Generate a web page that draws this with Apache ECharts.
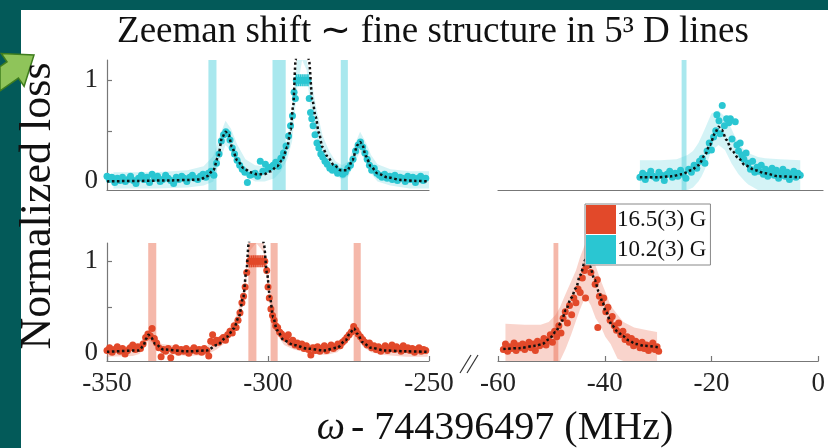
<!DOCTYPE html>
<html><head><meta charset="utf-8">
<script src="https://cdn.jsdelivr.net/npm/echarts@6/dist/echarts.min.js"></script>
<style>html,body{margin:0;padding:0;background:#fff}#c{width:828px;height:448px}</style>
</head><body><div id="c"></div>
<script>
// ---------- data ----------
const legendNames = ['16.5(3) G', '10.2(3) G'];
const yTickLabels = [0, 1];
const yTickMarks = [0, 0.5, 1];

// vertical marker bands [from, to] (MHz)
const bandsTL = [[-318.5, -316], [-298.6, -294.5], [-277.4, -275.2]];
const bandsTR = [[-26.1, -25.2]];
const bandsBL = [[-337.2, -334.7], [-306.1, -303.6], [-299.2, -297], [-273.4, -271.2]];
const bandsBR = [[-49.6, -48.7]];

// measured points, 10.2(3) G, left window
const ptsTL = [[-350,0.05],[-349.3,0.02],[-348.5,0.04],[-347.6,-0.01],[-346.8,0.03],[-346,0.01],[-345.2,0.04],[-344.3,0.0],[-343.5,0.02],[-342.7,0.05],[-341.8,0.01],[-341,-0.02],[-340.2,0.03],[-339.3,0.06],[-338.5,0.02],[-337.6,0.04],[-336.8,-0.01],[-336,0.07],[-335.2,0.03],[-334.3,0.05],[-333.5,0.0],[-332.7,0.02],[-331.8,0.06],[-331,0.03],[-330.2,0.01],[-329.3,-0.02],[-328.5,0.04],[-327.7,0.02],[-326.8,0.05],[-326,0.03],[-325.2,0.0],[-324.3,0.04],[-323.5,0.06],[-322.7,0.03],[-321.8,0.02],[-321,0.05],[-320.2,0.07],[-319.3,0.04],[-318.5,0.08],[-317.7,0.1],[-316.8,0.06],[-316,0.18],[-315.2,0.27],[-314.5,0.4],[-313.8,0.46],[-313.1,0.49],[-312.5,0.47],[-311.8,0.41],[-311.1,0.33],[-310.4,0.27],[-309.6,0.21],[-308.8,0.16],[-308,0.12],[-307.2,0.09],[-306.4,-0.01],[-305.6,0.06],[-304.8,0.07],[-304,0.08],[-303.2,0.05],[-302.4,0.2],[-301.6,0.1],[-300.8,0.17],[-300,0.12],[-299.2,0.14],[-298.4,0.16],[-297.6,0.19],[-296.8,0.15],[-296,0.23],[-295.2,0.28],[-294.4,0.35],[-293.6,0.45],[-293,0.55],[-292.4,0.65],[-291.9,0.88],[-291.5,0.82],[-287.2,0.82],[-286.8,0.68],[-286.4,0.62],[-286,0.55],[-285.4,0.46],[-284.8,0.38],[-284.2,0.33],[-283.6,0.27],[-283,0.24],[-282.3,0.2],[-281.6,0.17],[-280.8,0.13],[-280,0.11],[-279.2,0.14],[-278.4,0.08],[-277.6,0.1],[-276.8,0.07],[-276,0.09],[-275.2,0.13],[-274.4,0.16],[-273.6,0.22],[-272.8,0.3],[-272,0.36],[-271.3,0.39],[-270.6,0.34],[-269.9,0.28],[-269.2,0.22],[-268.5,0.16],[-267.8,0.11],[-267,0.13],[-266.2,0.08],[-265.4,0.06],[-264.6,0.04],[-263.8,0.07],[-263,0.03],[-262.2,0.05],[-261.4,0.02],[-260.6,0.06],[-259.8,0.01],[-259,0.04],[-258.2,0.03],[-257.4,0.0],[-256.6,0.05],[-255.8,0.02],[-255,0.04],[-254.2,-0.01],[-253.4,0.03],[-252.6,0.05],[-251.8,0.01],[-251,0.03]];
const satTL = [[-291.2,1],[-290.6,1],[-290,1],[-289.4,1],[-288.8,1],[-288.2,1],[-287.6,1]];

// measured points, 10.2(3) G, right window
const ptsTR = [[-33.8,0.04],[-33.3,0.08],[-32.8,0.02],[-32.3,0.06],[-31.8,0.1],[-31.3,0.05],[-30.8,0.03],[-30.3,0.09],[-29.8,0.06],[-29.3,0.01],[-28.8,0.07],[-28.3,0.1],[-27.8,0.04],[-27.3,0.08],[-26.8,0.05],[-26.3,0.11],[-25.8,0.07],[-25.3,0.03],[-24.8,0.12],[-24.3,0.09],[-23.8,0.16],[-23.3,0.13],[-22.8,0.2],[-22.3,0.23],[-21.8,0.18],[-21.4,0.3],[-21,0.38],[-20.6,0.31],[-20.2,0.44],[-19.8,0.5],[-19.6,0.66],[-19.2,0.6],[-19,0.47],[-18.6,0.75],[-18.2,0.55],[-17.8,0.62],[-17.4,0.58],[-17.1,0.62],[-16.8,0.42],[-16.2,0.59],[-15.9,0.36],[-15.6,0.3],[-15.3,0.38],[-15,0.26],[-14.6,0.22],[-14.2,0.28],[-13.8,0.18],[-13.4,0.12],[-13,0.2],[-12.6,0.09],[-12.2,0.14],[-11.8,0.1],[-11.4,0.16],[-11,0.07],[-10.6,0.12],[-10.2,0.05],[-9.8,0.1],[-9.4,0.13],[-9,0.06],[-8.6,0.11],[-8.2,0.03],[-7.8,0.08],[-7.4,0.12],[-7,0.05],[-6.6,0.09],[-6.2,0.02],[-5.8,0.07],[-5.4,0.1],[-5,0.04],[-4.6,0.08],[-4.2,0.06]];

// measured points, 16.5(3) G, left window
const ptsBL = [[-350,0.03],[-349.2,0.06],[-348.4,0.01],[-347.6,0.04],[-346.8,0.07],[-346,0.02],[-345.2,0.05],[-344.4,-0.01],[-343.6,0.03],[-342.8,0.06],[-342,0.09],[-341.2,0.04],[-340.4,0.07],[-339.6,0.05],[-338.8,0.1],[-338,0.17],[-337.3,0.21],[-336.6,0.19],[-336,0.27],[-335.3,0.16],[-334.6,0.11],[-333.9,0.06],[-333.2,-0.04],[-332.5,0.04],[-331.8,0.02],[-331,0.05],[-330.2,-0.05],[-329.4,0.03],[-328.6,0.06],[-327.8,0.01],[-327,0.04],[-326.2,0.02],[-325.4,0.05],[-324.6,0.0],[-323.8,0.03],[-323,0.06],[-322.2,0.02],[-321.4,0.04],[-320.6,0.01],[-319.8,0.05],[-319,0.03],[-318.4,-0.03],[-317.8,0.13],[-317.2,0.2],[-316.6,0.11],[-316,0.14],[-315.3,0.12],[-314.6,0.15],[-313.9,0.17],[-313.2,0.14],[-312.5,0.2],[-311.8,0.24],[-311.1,0.22],[-310.5,0.3],[-309.9,0.28],[-309.3,0.36],[-308.7,0.44],[-308.1,0.55],[-307.6,0.62],[-307.1,0.72],[-306.6,0.88],[-300.4,0.9],[-300,0.72],[-299.6,0.6],[-299.1,0.48],[-298.6,0.41],[-298.1,0.36],[-297.6,0.3],[-297,0.28],[-296.4,0.23],[-295.8,0.21],[-295.1,0.18],[-294.4,0.16],[-293.7,0.2],[-293,0.12],[-292.3,0.14],[-291.6,0.09],[-290.9,0.11],[-290.2,0.07],[-289.5,0.1],[-288.8,0.05],[-288.1,0.08],[-287.4,0.04],[-286.7,-0.02],[-286,0.06],[-285.3,0.03],[-284.6,0.07],[-283.9,0.02],[-283.2,0.05],[-282.5,0.08],[-281.8,0.03],[-281.1,0.06],[-280.4,0.09],[-279.7,0.05],[-279,0.07],[-278.3,0.1],[-277.6,0.08],[-276.9,0.12],[-276.2,0.14],[-275.5,0.17],[-274.8,0.2],[-274.1,0.23],[-273.4,0.29],[-272.7,0.25],[-272,0.21],[-271.3,0.18],[-270.6,0.15],[-269.9,0.12],[-269.2,0.09],[-268.5,0.11],[-267.8,0.06],[-267.1,0.08],[-266.4,0.04],[-265.7,0.07],[-265,0.02],[-264.3,0.05],[-263.6,0.08],[-262.9,0.03],[-262.2,0.06],[-261.5,0.09],[-260.8,0.04],[-260.1,0.07],[-259.4,0.05],[-258.7,0.02],[-258,0.08],[-257.3,0.04],[-256.6,0.06],[-255.9,0.03],[-255.2,0.05],[-254.5,0.01],[-253.8,0.04],[-253.1,0.06],[-252.4,0.02],[-251.7,0.04],[-251,0.03]];
const satBL = [[-305.8,1],[-305.2,1],[-304.6,1],[-304,1],[-303.4,1],[-302.8,1],[-302.2,1],[-301.6,1],[-301,1]];

// measured points, 16.5(3) G, right window
const ptsBR = [[-59,0.04],[-58.6,0.1],[-58.2,0.02],[-57.8,0.07],[-57.4,0.05],[-57,0.11],[-56.6,0.03],[-56.2,0.08],[-55.8,0.06],[-55.4,0.1],[-55,0.04],[-54.6,0.09],[-54.2,0.12],[-53.8,0.06],[-53.4,0.1],[-53,0.03],[-52.6,0.13],[-52.2,0.08],[-51.8,0.11],[-51.4,0.16],[-51,0.09],[-50.6,0.14],[-50.2,0.2],[-49.8,0.12],[-49.4,0.24],[-49,0.18],[-48.6,0.3],[-48.2,0.22],[-47.8,0.38],[-47.4,0.45],[-47,0.33],[-46.6,0.52],[-46.2,0.42],[-45.8,0.6],[-45.4,0.55],[-45,0.7],[-44.6,0.66],[-44.2,0.82],[-43.8,0.9],[-43.4,0.95],[-43.6,0.6],[-42.6,0.88],[-41.3,0.28],[-41.8,0.75],[-41.4,0.8],[-41,0.62],[-40.6,0.55],[-40.2,0.6],[-39.8,0.45],[-39.4,0.5],[-39,0.36],[-38.6,0.4],[-38.2,0.3],[-37.8,0.25],[-37.4,0.33],[-37,0.2],[-36.6,0.24],[-36.2,0.15],[-35.8,0.18],[-35.4,0.12],[-35,0.16],[-34.6,0.08],[-34.2,0.13],[-33.8,0.1],[-33.4,0.06],[-33,0.12],[-32.6,0.05],[-32.2,0.09],[-31.8,0.03],[-31.4,0.08],[-31,0.11],[-30.6,0.04],[-30.2,0.07],[-29.9,0.02]];

// fitted curves
const fitTL_x = [-350,-340,-330,-324,-321,-319,-317,-315.5,-314.3,-313.2,-312.2,-311.2,-309.6,-307.5,-305.5,-303.4,-301.3,-299.2,-297.2,-295.6,-294,-293,-292.2,-291.4,-290.5,-289.4,-288.3,-287.3,-286.2,-285.2,-284.2,-283.1,-281.6,-279.5,-277.4,-275.3,-273.8,-272.2,-271.4,-270.7,-269.6,-268.1,-266,-262.9,-258.7,-254,-250.4];
const fitTL_y = [0.0,0.005,0.01,0.015,0.02,0.05,0.11,0.24,0.43,0.49,0.46,0.34,0.21,0.13,0.09,0.07,0.07,0.1,0.15,0.21,0.34,0.51,0.74,1.2,1.75,2.0,1.75,1.2,0.8,0.64,0.48,0.34,0.25,0.16,0.11,0.11,0.21,0.36,0.39,0.36,0.25,0.15,0.08,0.04,0.015,0.005,0.0];
const fitTR_x = [-33.8,-30.4,-28,-26.1,-24.3,-23,-21.8,-20.9,-19.9,-19.3,-18.7,-17.8,-16.9,-15.6,-14.4,-12.5,-10.7,-8.2,-4.2];
const fitTR_y = [0.04,0.04,0.05,0.07,0.11,0.16,0.26,0.36,0.48,0.54,0.51,0.41,0.31,0.23,0.16,0.11,0.08,0.05,0.04];
const fitBL_x = [-350,-340,-338.7,-337.8,-337.1,-336.3,-335,-332.5,-325,-319,-315.8,-312.7,-310.6,-309.1,-307.7,-306.7,-306,-305,-303.7,-302.4,-301.3,-300.3,-299.4,-298.4,-297.2,-295.1,-292,-287.8,-282.6,-278.5,-275.9,-274.5,-273.3,-272.2,-270.7,-268.1,-263.9,-257,-250.4];
const fitBL_y = [0.015,0.03,0.08,0.16,0.2,0.17,0.1,0.04,0.02,0.03,0.09,0.18,0.27,0.39,0.61,0.9,1.19,1.7,2.0,1.7,1.19,0.87,0.61,0.39,0.25,0.14,0.09,0.05,0.03,0.06,0.14,0.22,0.27,0.21,0.12,0.06,0.03,0.02,0.015];
const fitBR_x = [-59,-56,-53,-51.7,-50.5,-49.2,-48.2,-47.3,-46.3,-45.4,-44.6,-43.6,-42.8,-41.9,-41.1,-40.4,-39.8,-38.6,-37.5,-36.7,-35.5,-34.2,-32.5,-30];
const fitBR_y = [0.045,0.055,0.08,0.1,0.15,0.23,0.33,0.47,0.6,0.71,0.85,1.02,0.95,0.8,0.67,0.55,0.45,0.3,0.23,0.19,0.14,0.1,0.08,0.065];

// confidence regions of the fits
const ciTL_x = [-348,-335,-325,-320,-317,-315,-313.2,-311.5,-309.5,-307,-304,-301,-298,-296,-294,-292.5,-291,-289.4,-288,-286.5,-285,-283,-281,-279,-277,-275,-273.5,-271.4,-269.5,-268,-266,-262,-256,-250];
const ciTL_hi = [0.09,0.09,0.11,0.15,0.25,0.45,0.6,0.52,0.36,0.22,0.16,0.15,0.2,0.28,0.42,0.7,1.4,2.2,1.6,1.0,0.72,0.45,0.3,0.2,0.16,0.2,0.33,0.49,0.38,0.26,0.17,0.12,0.1,0.1];
const ciTL_lo = [-0.07,-0.07,-0.06,-0.04,0.0,0.2,0.36,0.3,0.16,0.05,0.0,0.0,0.03,0.1,0.22,0.4,0.9,1.7,1.1,0.6,0.45,0.25,0.14,0.06,0.02,0.05,0.16,0.29,0.18,0.08,0.0,-0.04,-0.07,-0.07];
const ciTR_x = [-33.8,-30,-27,-25,-24,-23,-22.4,-21.8,-20.6,-19.3,-18.1,-16.9,-16.2,-15.6,-14.4,-13.8,-12,-10.7,-8,-4.2];
const ciTR_hi = [0.21,0.21,0.22,0.26,0.3,0.38,0.45,0.52,0.67,0.7,0.64,0.52,0.44,0.38,0.3,0.28,0.24,0.23,0.22,0.21];
const ciTR_lo = [-0.085,-0.085,-0.085,-0.085,-0.06,0.0,0.05,0.12,0.3,0.36,0.31,0.18,0.12,0.07,0.0,-0.03,-0.085,-0.085,-0.085,-0.085];
const ciBL_x = [-350,-342,-340,-338.5,-337.1,-335.5,-333,-325,-319,-316,-313,-311,-309.5,-308,-307,-306,-303.7,-301.3,-300.3,-299.4,-298.4,-297.2,-295,-292,-287,-282,-278.5,-276,-274.5,-273.3,-272,-270.5,-268,-264,-257,-250.4];
const ciBL_hi = [0.07,0.08,0.1,0.18,0.25,0.2,0.1,0.07,0.08,0.14,0.24,0.32,0.44,0.62,0.85,1.25,2.1,1.25,0.95,0.7,0.46,0.32,0.2,0.15,0.1,0.08,0.11,0.2,0.28,0.33,0.28,0.18,0.11,0.08,0.07,0.07];
const ciBL_lo = [-0.04,-0.03,-0.01,0.05,0.14,0.1,0.0,-0.03,-0.02,0.04,0.12,0.2,0.33,0.5,0.7,1.1,1.9,1.1,0.8,0.52,0.32,0.2,0.09,0.04,0.0,-0.02,0.01,0.09,0.17,0.22,0.16,0.07,0.01,-0.02,-0.04,-0.04];
const ciBR_x = [-58.6,-55,-52,-50.5,-49.2,-48.4,-47.3,-46.3,-45.4,-44.6,-43.6,-42.6,-41.7,-40.8,-39.9,-38.9,-37.6,-36.5,-34.5,-32,-30.2];
const ciBR_hi = [0.32,0.31,0.31,0.34,0.42,0.5,0.65,0.78,0.9,1.05,1.3,1.1,0.95,0.8,0.67,0.52,0.42,0.34,0.28,0.25,0.23];
const ciBR_lo = [-0.085,-0.085,-0.085,-0.085,-0.085,-0.085,0.05,0.2,0.35,0.48,0.62,0.52,0.38,0.3,0.18,0.1,-0.06,-0.085,-0.085,-0.085,-0.085];

// ---------- styles ----------
const SERIF = 'Liberation Serif';
const RED = '#e2492a', CYAN = '#2ac6d2';
const RED_BAND = 'rgba(235,113,85,0.5)', CYAN_BAND = 'rgba(83,209,221,0.5)';
const RED_CI = 'rgba(235,113,85,0.3)', CYAN_CI = 'rgba(83,209,221,0.25)';
const YMIN = -0.085, YMAX = 1.2;

function ciSeries(i, cx, clo, chi, color, bandColor, bands) {
  return {type:'custom', xAxisIndex:i, yAxisIndex:i, z:1, silent:true,
    data: cx.map((x,k)=>[x, clo[k], chi[k]]),
    renderItem: function(params, api) {
      if (params.dataIndex !== 0) return null;
      const up = [], dn = [];
      for (let k = 0; k < cx.length; k++) {
        up.push(api.coord([cx[k], chi[k]]));
        dn.push(api.coord([cx[k], clo[k]]));
      }
      const cs = params.coordSys;
      const pts = echarts.graphic.clipPointsByRect(up.concat(dn.reverse()),
        {x:cs.x, y:cs.y, width:cs.width, height:cs.height});
      return {type:'polygon', shape:{points:pts}, style:{fill:color}};
    },
    markArea:{silent:true, itemStyle:{color:bandColor}, data: bands.map(b=>[{xAxis:b[0]},{xAxis:b[1]}])}
  };
}

function panelSeries(i, name, color, ciColor, bandColor, bands, pts, sat, fx, fy, cx, clo, chi) {
  const s = [ciSeries(i, cx, clo, chi, ciColor, bandColor, bands)];
  s.push({type:'scatter', name:name, xAxisIndex:i, yAxisIndex:i, z:3, symbolSize:7,
    itemStyle:{color:color, opacity:1}, data: pts});
  if (sat) {
    s.push({type:'scatter', name:name, xAxisIndex:i, yAxisIndex:i, z:3, symbolSize:7, itemStyle:{color:color, opacity:1}, data: sat});
    s.push({type:'scatter', xAxisIndex:i, yAxisIndex:i, z:3, symbol:'rect', symbolSize:[1.6,12], itemStyle:{color:color, opacity:1}, data: sat});
  }
  s.push({type:'line', xAxisIndex:i, yAxisIndex:i, z:4, symbol:'none', smooth:0.3, smoothMonotone:'x', silent:true,
    lineStyle:{color:'#111', width:2.5, type:[2.5,2.5]}, data: fx.map((x,k)=>[x, fy[k]])});
  return s;
}

const grids = [
  {left:107, top:60, width:322, height:130},
  {left:498, top:60, width:325, height:130},
  {left:107, top:243, width:322, height:118},
  {left:498, top:243, width:325, height:118}
];
const axisLineStyle = {color:'#777', width:1.2};
function yAx(i, show) {
  return {type:'value', gridIndex:i, min:YMIN, max:YMAX,
    axisLine:{show:show, lineStyle:axisLineStyle},
    axisTick:{show:show, inside:true, length:5, customValues:yTickMarks, lineStyle:axisLineStyle},
    axisLabel:{show:show, customValues:yTickLabels, margin:9, fontFamily:SERIF, fontSize:27, color:'#222'},
    splitLine:{show:false}};
}
function xAx(i, min, max, interval, labels) {
  return {type:'value', gridIndex:i, min:min, max:max, interval:interval,
    axisLine:{show:true, onZero:false, lineStyle:axisLineStyle},
    axisTick:{show:labels, inside:true, length:5, lineStyle:axisLineStyle},
    axisLabel:{show:labels, margin:9, fontFamily:SERIF, fontSize:27, color:'#222'},
    splitLine:{show:false}};
}

const option = {
  animation:false,
  backgroundColor:'#fff',
  grid: grids,
  xAxis: [xAx(0,-350,-250,50,false), xAx(1,-60,0,20,false), xAx(2,-350,-250,50,true), xAx(3,-60,0,20,true)],
  yAxis: [yAx(0,true), yAx(1,false), yAx(2,true), yAx(3,false)],
  legend: {data: legendNames.map(n=>({name:n, icon:'rect'})), orient:'vertical', left:585, top:204,
    itemWidth:30, itemHeight:29, itemGap:1, padding:[1,4,1,1], backgroundColor:'#fff', borderColor:'#888', borderWidth:1,
    textStyle:{fontFamily:SERIF, fontSize:23, color:'#111', padding:[0,0,0,-4]}, selectedMode:false, z:10},
  series: [].concat(
    panelSeries(0, legendNames[1], CYAN, CYAN_CI, CYAN_BAND, bandsTL, ptsTL, satTL, fitTL_x, fitTL_y, ciTL_x, ciTL_lo, ciTL_hi),
    panelSeries(1, legendNames[1], CYAN, CYAN_CI, CYAN_BAND, bandsTR, ptsTR, null, fitTR_x, fitTR_y, ciTR_x, ciTR_lo, ciTR_hi),
    panelSeries(2, legendNames[0], RED, RED_CI, RED_BAND, bandsBL, ptsBL, satBL, fitBL_x, fitBL_y, ciBL_x, ciBL_lo, ciBL_hi),
    panelSeries(3, legendNames[0], RED, RED_CI, RED_BAND, bandsBR, ptsBR, null, fitBR_x, fitBR_y, ciBR_x, ciBR_lo, ciBR_hi)
  ),
  graphic: [
    {type:'rect', shape:{x:0,y:0,width:21,height:448}, style:{fill:'#035a59'}, z:0},
    {type:'rect', shape:{x:0,y:0,width:828,height:10}, style:{fill:'#035a59'}, z:0},
    {type:'polygon', shape:{points:[[0,66.6],[7,61.7],[1.3,53.5],[34,55],[24.1,86.3],[18.4,78.1],[0,90.9]]},
      style:{fill:'#8fc45a', stroke:'#3f7d1e', lineWidth:1.5}, z:1},
    {type:'text', x:433, y:32, style:{text:'Zeeman shift \u223C fine structure in 5\u00B3 D lines',
      font:'37px "Liberation Serif"', fill:'#111', align:'center', verticalAlign:'middle'}, z:5},
    {type:'text', x:38, y:206, rotation:Math.PI/2, style:{text:'Normalized loss',
      font:'44px "Liberation Serif"', fill:'#111', align:'center', verticalAlign:'middle'}, z:5},
    {type:'text', x:495, y:428, style:{text:'{w|\u03C9}- 744396497 (MHz)', font:'40px "Liberation Serif"', fill:'#111',
      align:'center', verticalAlign:'middle', rich:{w:{font:'italic 40px "Liberation Serif"', fill:'#111', padding:[0,6,0,0]}}}, z:5},
    {type:'line', shape:{x1:460,y1:373,x2:471,y2:355}, style:{stroke:'#333', lineWidth:1.2}, z:5},
    {type:'line', shape:{x1:467,y1:373,x2:478,y2:355}, style:{stroke:'#333', lineWidth:1.2}, z:5}
  ]
};
const chart = echarts.init(document.getElementById('c'), null, {renderer:'canvas'});
chart.setOption(option);
</script></body></html>
